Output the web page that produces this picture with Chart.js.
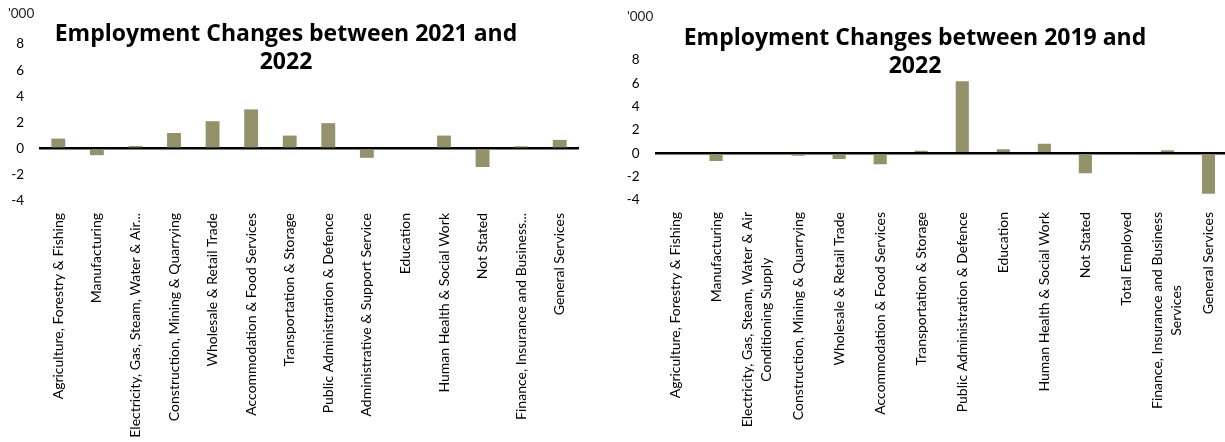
<!DOCTYPE html>
<html lang="en">
<head>
    <meta charset="UTF-8">
    <title>Employment Changes</title>
    <script src="https://cdn.jsdelivr.net/npm/chart.js"></script>
    <style>
        body {
            margin: 0;
            padding: 0;
            width: 1225px;
            height: 442px;
            overflow: hidden;
            background: #fff;
            position: relative;
            font-family: Lato, sans-serif;
        }
        .box {
            position: absolute;
            top: 0;
            height: 442px;
        }
        .title {
            position: absolute;
            width: 520px;
            text-align: center;
            font-family: "Open Sans", sans-serif;
            font-weight: 700;
            font-size: 23px;
            line-height: 28px;
            color: #000;
            z-index: 2;
        }
        .unit {
            position: absolute;
            font-size: 13.5px;
            color: #222;
            z-index: 2;
        }
    </style>
</head>
<body>
    <div class="box" style="left:0; width:600px;"><canvas id="chart-2021"></canvas></div>
    <div class="box" style="left:610px; width:620px;"><canvas id="chart-2019"></canvas></div>

    <div class="unit" style="left:8px; top:5px;">'000</div>
    <div class="title" style="left:26px; top:18px;">Employment Changes between 2021 and<br>2022</div>

    <div class="unit" style="left:627px; top:8px;">'000</div>
    <div class="title" style="left:655px; top:22px;">Employment Changes between 2019 and<br>2022</div>

    <script>
        // 2021 -> 2022 ('000)
        const labels2021 = [
            'Agriculture, Forestry & Fishing',
            'Manufacturing',
            'Electricity, Gas, Steam, Water & Air...',
            'Construction, Mining & Quarrying',
            'Wholesale & Retail Trade',
            'Accommodation & Food Services',
            'Transportation & Storage',
            'Public Administration & Defence',
            'Administrative & Support Service',
            'Education',
            'Human Health & Social Work',
            'Not Stated',
            'Finance, Insurance and Business...',
            'General Services'
        ];
        const values2021 = [0.77, -0.5, 0.2, 1.2, 2.1, 3.0, 1.0, 1.95, -0.7, 0, 1.0, -1.4, 0.18, 0.67];

        // 2019 -> 2022 ('000)
        const labels2019 = [
            'Agriculture, Forestry & Fishing',
            'Manufacturing',
            ['Electricity, Gas, Steam, Water & Air', 'Conditioning Supply'],
            'Construction, Mining & Quarrying',
            'Wholesale & Retail Trade',
            'Accommodation & Food Services',
            'Transportation & Storage',
            'Public Administration & Defence',
            'Education',
            'Human Health & Social Work',
            'Not Stated',
            'Total Employed',
            ['Finance, Insurance and Business', 'Services'],
            'General Services'
        ];
        const values2019 = [0, -0.66, 0, -0.2, -0.49, -0.94, 0.22, 6.18, 0.34, 0.82, -1.71, -0.08, 0.26, -3.46];

        const yTicks = [-4, -2, 0, 2, 4, 6, 8];

        const barColor = '#93926a';
        const tickFont = { family: 'Lato', size: 13.5 };
        const catFont = '14px Lato';
        const catLineHeight = 19;

        // vertical category labels, each line centred on the longest one (like Excel does)
        const verticalLabels = {
            id: 'verticalLabels',
            afterDraw(chart) {
                const xScale = chart.scales.x;
                const ctx = chart.ctx;
                const y0 = chart.chartArea.bottom + 12;
                ctx.save();
                ctx.font = catFont;
                ctx.fillStyle = '#000';
                ctx.textAlign = 'center';
                ctx.textBaseline = 'middle';
                chart.data.labels.forEach((label, i) => {
                    const lines = Array.isArray(label) ? label : [label];
                    const w = Math.max(...lines.map(l => ctx.measureText(l).width));
                    const x = xScale.getPixelForTick(i);
                    ctx.save();
                    ctx.translate(x, y0 + w / 2);
                    ctx.rotate(-Math.PI / 2);
                    lines.forEach((line, k) => {
                        ctx.fillText(line, 0, (k - (lines.length - 1) / 2) * catLineHeight);
                    });
                    ctx.restore();
                });
                ctx.restore();
            }
        };

        // builds one bar chart; axisWidth/topPad/bottomHeight/rightPad pin the plot area
        function makeChart(id, labels, values, barPct, axisWidth, topPad, bottomHeight, rightPad) {
            const ctx = document.getElementById(id).getContext('2d');
            return new Chart(ctx, {
                type: 'bar',
                data: {
                    labels: labels,
                    datasets: [{
                        data: values,
                        backgroundColor: barColor,
                        borderWidth: 0,
                        categoryPercentage: 1,
                        barPercentage: barPct
                    }]
                },
                options: {
                    responsive: true,
                    maintainAspectRatio: false,
                    animation: false,
                    layout: { padding: { top: topPad, right: rightPad, left: 0, bottom: 0 } },
                    plugins: {
                        legend: { display: false },
                        tooltip: { enabled: false }
                    },
                    scales: {
                        x: {
                            grid: { display: false, drawTicks: false },
                            border: { display: false },
                            ticks: { display: false },
                            afterFit: (scale) => { scale.height = bottomHeight; }
                        },
                        y: {
                            min: -4,
                            max: 8,
                            afterBuildTicks: (scale) => {
                                scale.ticks = yTicks.map(v => ({ value: v }));
                            },
                            grid: {
                                drawTicks: false,
                                color: (c) => c.tick && c.tick.value === 0 ? '#000' : 'rgba(0,0,0,0)',
                                lineWidth: (c) => c.tick && c.tick.value === 0 ? 2.5 : 0
                            },
                            border: { display: false },
                            ticks: {
                                padding: 15,
                                color: '#000',
                                font: tickFont
                            },
                            afterFit: (scale) => { scale.width = axisWidth; }
                        }
                    }
                },
                plugins: [verticalLabels]
            });
        }

        makeChart('chart-2021', labels2021, values2021, 0.36, 39, 44, 241, 21);
        makeChart('chart-2019', labels2019, values2019, 0.32, 44.5, 60, 242, 1);
    </script>
</body>
</html>
